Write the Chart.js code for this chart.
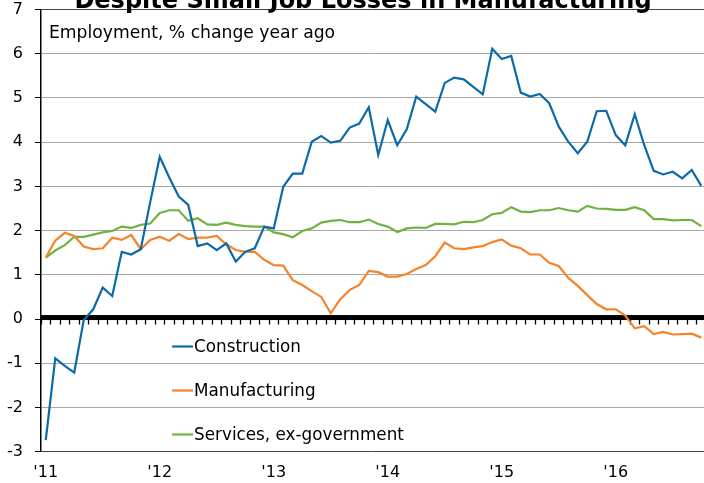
<!DOCTYPE html>
<html>
<head>
<meta charset="utf-8">
<script src="https://cdn.jsdelivr.net/npm/chart.js@4.4.0/dist/chart.umd.min.js"></script>
<style>
  html, body { margin: 0; padding: 0; background: #fff; overflow: hidden; }
</style>
</head>
<body>
<canvas id="c" width="704" height="483"></canvas>
<script>
// monthly data, Jan 2011 .. Oct 2016
const titleText = "Despite Small Job Losses in Manufacturing";
const subtitleText = "Employment, % change year ago";
const yearLabels = ["'11", "'12", "'13", "'14", "'15", "'16"];
const seriesNames = ["Construction", "Manufacturing", "Services, ex-government"];
const seriesColors = ["#0d6aa8", "#f5832a", "#6fb23f"];

const construction = [
  -2.74, -0.89, -1.06, -1.21, -0.02, 0.22, 0.71, 0.52, 1.52, 1.46, 1.58, 2.65,
  3.67, 3.20, 2.77, 2.58, 1.65, 1.71, 1.56, 1.71, 1.30, 1.52, 1.60, 2.09,
  2.05, 2.99, 3.29, 3.29, 4.01, 4.14, 3.99, 4.03, 4.33, 4.42, 4.79, 3.71,
  4.50, 3.93, 4.29, 5.03, 4.86, 4.69, 5.34, 5.46, 5.42, 5.25, 5.08, 6.11,
  5.88, 5.95, 5.12, 5.03, 5.09, 4.88, 4.35, 4.01, 3.75, 4.01, 4.70, 4.71,
  4.16, 3.93, 4.63, 3.93, 3.35, 3.27, 3.33, 3.18, 3.37, 3.01
];
const manufacturing = [
  1.39, 1.77, 1.95, 1.88, 1.64, 1.58, 1.60, 1.84, 1.79, 1.90, 1.58, 1.79,
  1.86, 1.77, 1.92, 1.81, 1.84, 1.84, 1.88, 1.69, 1.56, 1.52, 1.52, 1.34,
  1.22, 1.21, 0.88, 0.77, 0.63, 0.50, 0.13, 0.45, 0.66, 0.77, 1.09, 1.06,
  0.96, 0.96, 1.02, 1.13, 1.22, 1.42, 1.73, 1.60, 1.58, 1.62, 1.65, 1.74,
  1.80, 1.66, 1.60, 1.46, 1.46, 1.27, 1.20, 0.93, 0.75, 0.54, 0.34, 0.22,
  0.22, 0.08, -0.21, -0.16, -0.34, -0.29, -0.35, -0.34, -0.33, -0.42
];
const services = [
  1.39, 1.55, 1.67, 1.86, 1.86, 1.91, 1.96, 1.99, 2.09, 2.06, 2.13, 2.16,
  2.40, 2.46, 2.46, 2.22, 2.28, 2.14, 2.13, 2.18, 2.13, 2.10, 2.09, 2.09,
  1.96, 1.92, 1.85, 1.99, 2.05, 2.18, 2.22, 2.24, 2.19, 2.19, 2.25, 2.15,
  2.09, 1.97, 2.05, 2.07, 2.06, 2.15, 2.15, 2.14, 2.20, 2.19, 2.24, 2.37,
  2.40, 2.53, 2.43, 2.42, 2.46, 2.46, 2.51, 2.46, 2.43, 2.56, 2.50, 2.49,
  2.47, 2.47, 2.53, 2.46, 2.26, 2.26, 2.23, 2.24, 2.24, 2.10
];

const font = '"DejaVu Sans", Verdana, sans-serif';
const pts = arr => arr.map((v, i) => ({ x: i, y: v }));

// zero axis, monthly tick marks, title, note and the in-chart legend
const decor = {
  id: 'decor',
  beforeDatasetsDraw(chart) {
    const { ctx, chartArea, scales: { x, y } } = chart;
    const y0 = y.getPixelForValue(0);
    ctx.save();
    ctx.fillStyle = '#000';
    ctx.fillRect(chartArea.left, y0 - 4, chartArea.right - chartArea.left, 5);
    ctx.strokeStyle = '#000';
    ctx.lineWidth = 1.3;
    for (let k = 0; k <= construction.length; k++) {
      const px = Math.round(x.getPixelForValue(k - 0.5)) + 0.5;
      if (px > chartArea.right) break;
      ctx.beginPath();
      ctx.moveTo(px, y0);
      ctx.lineTo(px, y0 + 5.5);
      ctx.stroke();
    }
    ctx.restore();
  },
  afterDatasetsDraw(chart) {
    const { ctx, scales: { x, y } } = chart;
    ctx.save();
    // legend
    const lx = x.getPixelForValue(13.3);
    const levels = [-0.6, -1.6, -2.6];
    ctx.font = '16.8px ' + font;
    ctx.textBaseline = 'middle';
    ctx.textAlign = 'left';
    seriesNames.forEach((name, i) => {
      const ly = Math.round(y.getPixelForValue(levels[i])) + 0.5;
      ctx.strokeStyle = seriesColors[i];
      ctx.lineWidth = 2.2;
      ctx.beginPath();
      ctx.moveTo(lx, ly);
      ctx.lineTo(lx + 21, ly);
      ctx.stroke();
      ctx.fillStyle = '#000';
      ctx.fillText(name, lx + 22, ly + 1);
    });
    // note
    ctx.font = '17.2px ' + font;
    ctx.textBaseline = 'alphabetic';
    ctx.fillText(subtitleText, 49, 37.5);
    // title, clipped at the top like the source
    ctx.font = 'bold 24px ' + font;
    ctx.textAlign = 'center';
    ctx.fillText(titleText, 363, 8);
    ctx.restore();
  }
};

new Chart(document.getElementById('c'), {
  type: 'line',
  data: {
    datasets: [
      { label: seriesNames[0], data: pts(construction), borderColor: seriesColors[0] },
      { label: seriesNames[1], data: pts(manufacturing), borderColor: seriesColors[1] },
      { label: seriesNames[2], data: pts(services), borderColor: seriesColors[2] }
    ]
  },
  options: {
    responsive: false,
    animation: false,
    devicePixelRatio: 1,
    layout: { padding: { top: 9.5, left: 0, right: 0, bottom: 0 } },
    elements: {
      line: { borderWidth: 2.2, tension: 0, fill: false },
      point: { radius: 0, hoverRadius: 0 }
    },
    plugins: { legend: { display: false }, tooltip: { enabled: false }, title: { display: false } },
    scales: {
      x: {
        type: 'linear',
        min: -0.5,
        max: 69.29,
        afterFit: s => { s.height = 31.3; s.paddingLeft = 0; s.paddingRight = 0; },
        afterBuildTicks: s => { s.ticks = yearLabels.map((_, i) => ({ value: i * 12 })); },
        grid: { display: false, drawTicks: false },
        border: { display: false },
        ticks: {
          autoSkip: false,
          maxRotation: 0,
          padding: 13,
          color: '#000',
          font: { family: font, size: 16, lineHeight: 1 },
          callback: v => yearLabels[v / 12]
        }
      },
      y: {
        min: -3,
        max: 7,
        afterFit: s => { s.width = 41; s.paddingTop = 0; s.paddingBottom = 0; },
        grid: {
          color: c => (c.tick.value === 7 || c.tick.value === -3) ? '#444' : (c.tick.value === 0 ? 'rgba(0,0,0,0)' : '#a8a8a8'),
          lineWidth: 1,
          drawTicks: true,
          tickLength: 6,
          tickColor: '#000'
        },
        border: { display: true, color: '#000', width: 1.5 },
        ticks: {
          stepSize: 1,
          padding: 12,
          color: '#000',
          font: { family: font, size: 16, lineHeight: 1 }
        }
      }
    }
  },
  plugins: [decor]
});
</script>
</body>
</html>
